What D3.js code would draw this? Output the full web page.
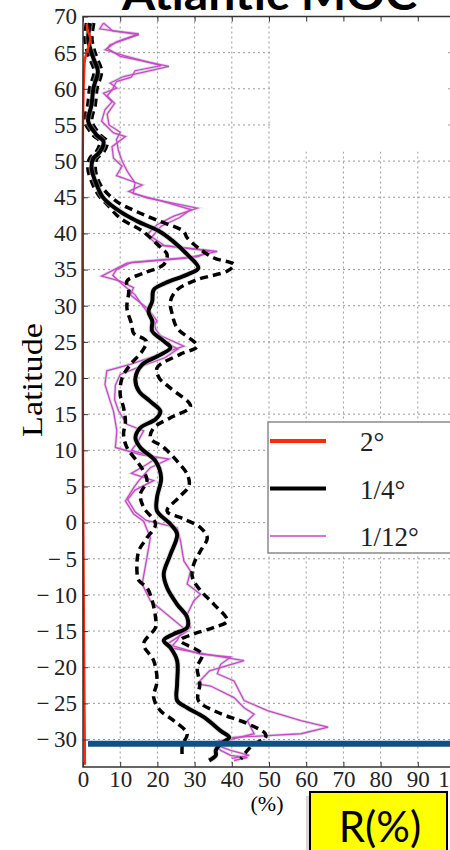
<!DOCTYPE html>
<html>
<head>
<meta charset="utf-8">
<script src="https://cdn.jsdelivr.net/npm/d3@7"></script>
<style>
  body { margin: 0; background: #fff; overflow: hidden; }
  svg { display: block; }
</style>
</head>
<body>
<div id="chart"></div>
<script>
// Données : [latitude, R(%)]
const res2 = [[69, 1.0], [68, 1.3], [67, 2.0], [66, 1.6], [65, 1.0], [64, 0.5], [-33.5, 0.5]];

const quarterMean = [[69.1,1.9],[67,1.4],[65.6,1.9],[64.2,2.8],[62.4,4],[60.1,2.8],[57.8,2.3],[55.5,1.4],[53.6,3.7],[52.7,5.5],
  [51.3,4.6],[50.4,2.8],[49,2.3],[46.7,3.7],[44.9,5.5],[43,10],[41.7,14.5],[40.3,20.5],[39,24],[37.1,28],
  [35.2,31],[34.3,28],[33.1,22],[32.2,19],[30.6,18.6],[29.2,17.6],[27.9,18.6],[26.5,18.6],[25.1,21.7],[24.2,23.5],
  [23,20],[21.9,16],[20,14.1],[18.2,15],[16.8,18],[15.4,20.8],[14.3,19.5],[13.1,15.4],[11.7,14.1],[10.4,15.4],
  [8.5,19.5],[6.2,21],[3.5,19.9],[1.6,19.9],[-0.2,23.5],[-1.6,25.3],[-4.4,23.5],[-7.1,21.7],[-9,22.6],[-11.3,25.3],
  [-13.1,28],[-14.5,28],[-15.4,24.4],[-16.3,21.7],[-17.3,23.5],[-19.1,25.3],[-22.3,25.3],[-24.6,25.3],[-25.6,28],[-26.9,32.5],
  [-28.8,37],[-29.7,39.3],[-30.6,37],[-31.5,35.7],[-32.2,35.7],[-32.9,33.9]];

const quarterLow = [[69.1,0.9],[67,0.5],[65.6,0.9],[64.2,1.8],[62.4,3],[60.1,1.8],[57.8,1.3],[55.5,0.5],[53.6,2.7],[52.7,4.5],
  [51.3,3.6],[50.4,1.8],[49,1.3],[46.7,2.7],[45,4.6],[44,6.5],[42.1,10],[40.3,16],[38,21],[37.1,22.6],
  [35.7,21.7],[34.5,16.3],[33.4,11.8],[32,12.3],[29.7,11.8],[27.4,13.1],[26.2,13.6],[25.1,17],[23.7,15.9],[21.9,12.8],
  [20,10.5],[17.7,10],[15.9,10.9],[14,11.4],[12.2,10.9],[10.4,11.8],[8.5,14.5],[7.1,16.3],[5.8,17.2],[3.9,15.4],
  [2.1,16.3],[-0.2,19.5],[-2.1,17.2],[-3.9,15],[-6.7,14.5],[-8,15],[-9,17.2],[-10.8,18.6],[-13.1,19.5],[-14.5,19.5],
  [-16.8,16.3],[-19.1,19],[-21.9,19.9],[-24.2,19],[-26,20.8],[-27.4,24.4],[-29.2,28],[-30.8,26.7],[-32.5,26.7]];

const quarterHigh = [[69.1,2.9],[67,2.4],[65.6,2.9],[64.2,3.8],[62.4,5],[60.1,3.8],[57.8,3.3],[55.5,2.4],[53.6,4.7],[52.7,6.5],
  [51.3,5.6],[50.4,3.8],[49,3.3],[46.7,4.7],[44.4,9.1],[43,14.5],[41.7,20.5],[40.3,27],[39.4,28],[38,31],
  [36.6,35.2],[35.7,40.6],[34.8,38.8],[33.6,30.7],[32.2,25.3],[30.6,23.5],[28.8,24],[26.9,25.3],[24.4,30.7],[23.3,26.2],
  [21.4,19.9],[20,20.5],[18.6,23.5],[16.1,28.9],[14.5,23.5],[13.1,19],[11.7,18.1],[10.4,21.7],[8.5,25.3],[6.7,28],
  [5.1,28.5],[3.5,25.8],[1.6,22.6],[0.5,27.1],[-0.7,31.6],[-2.1,33.4],[-3.9,31.6],[-5.7,29.8],[-7.6,29.4],[-9.4,31.6],
  [-11.3,35.2],[-13.6,38.8],[-14.5,35.2],[-15.4,29.8],[-16.3,26.2],[-18.2,32],[-20,30.7],[-22.3,31.4],[-24.6,31],[-26.2,36],
  [-27.8,44.2],[-29.2,49],[-29.8,49],[-30.6,46],[-31.5,44.2],[-32.7,42.4]];

const twelfthA = [[69.1,5.5],[68.3,4.5],[67.5,15],[66.1,7.3],[65.6,6.5],[64.5,10],[63.1,23.1],[62.4,17.2],[61.7,10.9],[60.8,7.3],
  [60.1,9.1],[59.4,5.5],[58.2,7.8],[57.1,5.9],[55.5,5],[53.9,8.2],[53.4,11.4],[52,7.8],[50.4,8.2],[49.3,10.5],
  [48,9],[46.7,15.9],[45.8,12.3],[44.9,17.2],[43.5,30.7],[42.4,24.4],[41.2,19.9],[39.8,17.2],[38.4,19.9],[37.5,36.1],
  [36.6,28],[35.9,11.8],[34.1,5],[33.4,10],[32.5,13.6],[31.5,12.7],[29.7,17.2],[27.9,19.9],[26.5,18.1],[24.4,27.1],
  [23.3,20.8],[21.9,12.7],[21,6.4],[19.1,5.9],[16.8,7.3],[15.4,8.2],[12.7,9.1],[10.4,8.7],[9.4,15.4],[8.8,23.1],
  [7.6,18.1],[5.8,15],[4.8,13.6],[3,11.4],[1.2,13.6],[0.2,16.3],[-2.1,18.1],[-4.8,17.2],[-8.5,15.9],[-10.8,18.1],
  [-13.1,23.5],[-15,28],[-16.8,22.6],[-18.2,31.6],[-18.6,39.7],[-19.6,37],[-20.9,36.1],[-21.9,40.6],[-24.6,43.3],[-26,49.6],
  [-27.4,58.6],[-28.3,65.9],[-29.2,58.6],[-29.7,40.6],[-30.4,35.2],[-31.5,37],[-32.2,39.7],[-32.5,44.2],[-32.9,40.6]];

const twelfthB = [[69.1,5.5],[68,8],[67.6,15],[66.5,9],[65.4,6],[64.6,11],[63.2,21],[62.5,14],[61.6,13],[61,9],
  [60,8],[59,6.5],[58,8.5],[56.5,6.5],[55,7],[54,10],[53,9],[51.5,9.5],[50,10.5],[48.5,12],
  [47,14],[45.5,13.5],[44.5,21],[43.3,29],[42.2,26],[41,21],[39.5,18.5],[38.3,22],[37.6,34],[36.8,31],
  [36,13],[35,9],[34.2,8],[33,10.5],[31.5,14],[30,16],[28,19],[26.8,19.5],[25,22],[24,25.5],
  [22.8,22],[21.5,15],[20.5,10],[19,8.7],[17,8.5],[15.5,9.5],[13.6,11.8],[12.7,16.3],[11,14.5],[10,13],
  [9,20],[8,17],[6.8,13],[5.8,19],[4.5,14],[3.2,12],[1.5,14],[0.3,17],[-0.7,25.3],[-2.5,26.2],
  [-5.3,27.1],[-6.7,28.9],[-8.5,28],[-9.9,31.6],[-10.8,29.8],[-12.7,28],[-14.5,28.9],[-15.4,26.2],[-16.3,25.3],[-17.3,23.5],
  [-18.2,33],[-19.1,43.3],[-20.5,34],[-22.3,30.7],[-22.6,34.3],[-24.2,40.6],[-25.6,43.3],[-26.5,46],[-27.4,44.2],[-29.2,46],
  [-30.1,38.8],[-30.8,36],[-31.5,39.7],[-32.2,44.7],[-32.6,40]];

// Ticks et légende
const xTicks = [0, 10, 20, 30, 40, 50, 60, 70, 80, 90, 100];
const latTicks = [-30, -25, -20, -15, -10, -5, 0, 5, 10, 15, 20, 25, 30, 35, 40, 45, 50, 55, 60, 65, 70];
const legendLabels = ["2°", "1/4°", "1/12°"];
const legendColors = ["#ff2a0a", "#000", "#cc44cc"];
const markerLat = -30.6; // bande bleue

const width = 450;
const height = 850;

const svg = d3.select("#chart").append("svg")
  .attr("width", width)
  .attr("height", height);

const x = d3.scaleLinear().domain([0, 100]).range([83, 455]);
const y = d3.scaleLinear().domain([-33.8, 70]).range([767, 16.5]);

const serif = "'Liberation Serif', 'Times New Roman', serif";

// Grille pointillée
const grid = svg.append("g").attr("stroke", "#9a9a9a").attr("stroke-width", 1).attr("stroke-dasharray", "2,3");
grid.selectAll(".vg").data(xTicks.slice(1, -1)).join("line")
  .attr("x1", d => x(d)).attr("x2", d => x(d))
  .attr("y1", y(70)).attr("y2", y(-33.8));
grid.selectAll(".hg").data(latTicks.slice(0, -1)).join("line")
  .attr("x1", x(0)).attr("x2", x(100))
  .attr("y1", d => y(d)).attr("y2", d => y(d));

// zone blanche en haut à droite (comme sur l'image)
svg.append("rect").attr("x", x(50) + 1).attr("y", y(70) + 1)
  .attr("width", 178).attr("height", 134).attr("fill", "#fff");

// Lignes
const line = d3.line().x(d => x(d[1])).y(d => y(d[0]));
const smooth = d3.line().x(d => x(d[1])).y(d => y(d[0])).curve(d3.curveCatmullRom);

const lines = svg.append("g").attr("fill", "none");

// halo gris léger
[twelfthA, twelfthB].forEach(s => {
  lines.append("path").attr("d", line(s)).attr("stroke", "#c8c8c8").attr("stroke-width", 3).attr("opacity", 0.6);
});
[twelfthA, twelfthB].forEach(s => {
  lines.append("path").attr("d", line(s)).attr("stroke", legendColors[2]).attr("stroke-width", 1.3);
});

[quarterLow, quarterHigh].forEach(s => {
  lines.append("path").attr("d", smooth(s))
    .attr("stroke", "#000").attr("stroke-width", 3.5)
    .attr("stroke-dasharray", "8,5");
});
lines.append("path").attr("d", smooth(quarterMean))
  .attr("stroke", "#ccc").attr("stroke-width", 6).attr("opacity", 0.5);
lines.append("path").attr("d", smooth(quarterMean))
  .attr("stroke", "#000").attr("stroke-width", 4);

lines.append("path").attr("d", smooth(res2))
  .attr("stroke", legendColors[0]).attr("stroke-width", 2.5);

// Bande bleue
svg.append("line")
  .attr("x1", 88).attr("x2", width)
  .attr("y1", y(markerLat)).attr("y2", y(markerLat))
  .attr("stroke", "#0e5189").attr("stroke-width", 6);

// Axes (signe moins large façon LaTeX)
const fmt = d => d < 0 ? "\u2212\u2009" + Math.abs(d) : String(d);
const yAxis = svg.append("g")
  .attr("transform", `translate(${x(0)},0)`)
  .call(d3.axisLeft(y).tickValues(latTicks).tickFormat(fmt).tickSize(-5).tickSizeOuter(0).tickPadding(6));
const xAxis = svg.append("g")
  .attr("transform", `translate(0,${y(-33.8)})`)
  .call(d3.axisBottom(x).tickValues(xTicks).tickSize(-5).tickSizeOuter(0).tickPadding(4));
const topAxis = svg.append("g")
  .attr("transform", `translate(0,${y(70)})`)
  .call(d3.axisTop(x).tickValues(xTicks).tickSize(-5).tickSizeOuter(0).tickFormat(""));

[yAxis, xAxis, topAxis].forEach(a => {
  a.attr("font-family", serif);
  a.select(".domain").remove();
  a.selectAll("line").attr("stroke", "#333");
  a.selectAll("text").attr("font-family", serif).attr("font-size", 23).attr("fill", "#222");
});

// Cadre
svg.append("rect")
  .attr("x", x(0)).attr("y", y(70))
  .attr("width", x(100) - x(0)).attr("height", y(-33.8) - y(70))
  .attr("fill", "none").attr("stroke", "#333").attr("stroke-width", 1.5);

// Titres d'axes
svg.append("text")
  .attr("transform", `translate(42,380) rotate(-90)`)
  .attr("text-anchor", "middle")
  .attr("font-family", serif).attr("font-size", 30)
  .attr("textLength", 114).attr("lengthAdjust", "spacingAndGlyphs")
  .text("Latitude");

svg.append("text")
  .attr("x", 267).attr("y", 811)
  .attr("text-anchor", "middle")
  .attr("font-family", serif).attr("font-size", 22)
  .text("(%)");

// Titre (coupé en haut)
svg.append("text")
  .attr("x", 122).attr("y", 10)
  .attr("font-family", "Lato, 'Liberation Sans', sans-serif")
  .attr("font-weight", "bold").attr("font-size", 44)
  .attr("textLength", 295).attr("lengthAdjust", "spacingAndGlyphs")
  .text("Atlantic MOC");

// Légende
const legend = svg.append("g").attr("transform", "translate(268,422)");
legend.append("rect")
  .attr("width", 200).attr("height", 131)
  .attr("fill", "#fff").attr("stroke", "#8a8a8a").attr("stroke-width", 1.5);
const legendWidths = [4, 4, 1.5];
legendLabels.forEach((lab, i) => {
  const ly = 19 + i * 47.5;
  legend.append("line")
    .attr("x1", 2).attr("x2", 58).attr("y1", ly).attr("y2", ly)
    .attr("stroke", legendColors[i]).attr("stroke-width", legendWidths[i]);
  legend.append("text")
    .attr("x", 92).attr("y", ly + 10)
    .attr("font-family", serif).attr("font-size", 27).attr("fill", "#222")
    .text(lab);
});

// Encadré jaune R(%)
svg.append("rect")
  .attr("x", 306).attr("y", 796).attr("width", 142).attr("height", 70)
  .attr("fill", "#bbb").attr("opacity", 0.6);
svg.append("rect")
  .attr("x", 310).attr("y", 792).attr("width", 137).attr("height", 70)
  .attr("fill", "#ffff00").attr("stroke", "#000").attr("stroke-width", 2);
svg.append("text")
  .attr("x", 380).attr("y", 842)
  .attr("text-anchor", "middle")
  .attr("font-family", "Lato, 'Liberation Sans', sans-serif")
  .attr("font-size", 42)
  .text("R(%)");
</script>
</body>
</html>
